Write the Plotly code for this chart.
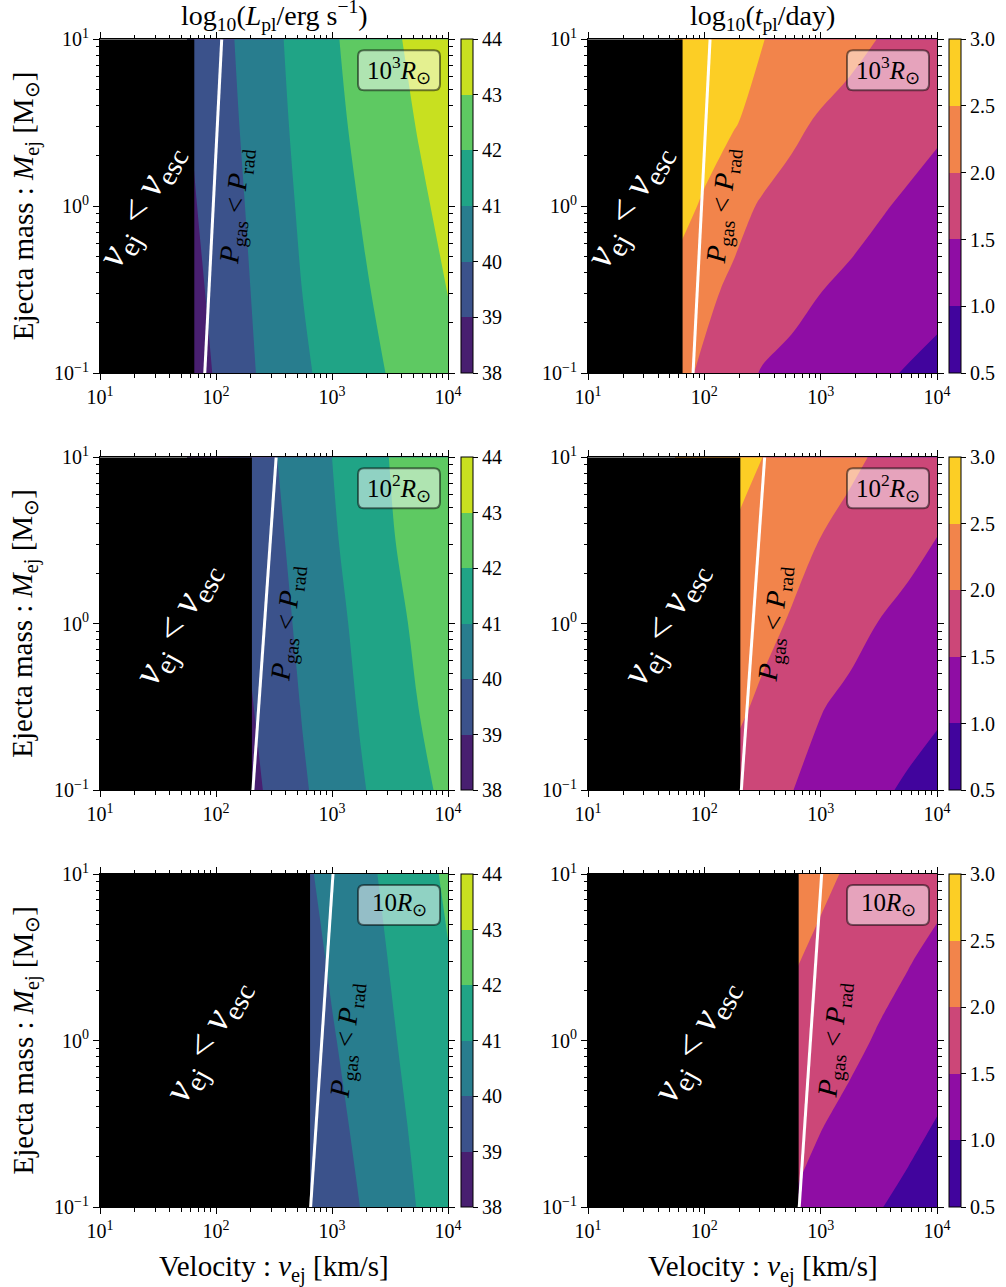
import plotly.graph_objects as go

# ---------------- data ----------------
VEL_GRID = [56.2, 100.0, 177.8, 316.2, 562.3, 1000.0, 1778.0, 3162.0, 5623.0, 10000.0]   # km/s
MASS_GRID = [0.1, 0.316, 1.0, 3.16, 10.0]                                                    # Msun

# log10(L_pl / erg s^-1), rows = MASS_GRID, cols = VEL_GRID
L_R1000 = [
    [38.39, 39.09, 39.79, 40.35, 40.86, 41.29, 41.68, 42.06, 42.42, 42.78],
    [38.60, 39.25, 39.89, 40.47, 41.02, 41.45, 41.87, 42.26, 42.64, 43.02],
    [38.79, 39.39, 40.00, 40.60, 41.15, 41.60, 42.04, 42.45, 42.85, 43.23],
    [38.93, 39.52, 40.12, 40.72, 41.27, 41.76, 42.21, 42.64, 43.06, 43.45],
    [39.02, 39.62, 40.22, 40.82, 41.36, 41.88, 42.35, 42.82, 43.25, 43.67],
]
L_R100 = [
    [37.30, 37.96, 38.60, 39.25, 39.89, 40.42, 40.92, 41.36, 41.79, 42.21],
    [37.60, 38.16, 38.81, 39.44, 40.06, 40.57, 41.08, 41.55, 42.01, 42.39],
    [37.80, 38.38, 39.00, 39.63, 40.21, 40.72, 41.22, 41.72, 42.17, 42.56],
    [37.93, 38.55, 39.17, 39.79, 40.35, 40.88, 41.40, 41.92, 42.34, 42.75],
    [38.12, 38.75, 39.35, 39.94, 40.48, 41.00, 41.51, 42.02, 42.47, 42.91],
]
L_R10 = [
    [36.60, 37.17, 37.74, 38.32, 38.89, 39.46, 40.02, 40.54, 41.05, 41.47],
    [36.80, 37.39, 37.97, 38.54, 39.11, 39.69, 40.23, 40.72, 41.19, 41.62],
    [37.10, 37.62, 38.19, 38.77, 39.35, 39.92, 40.41, 40.89, 41.34, 41.79],
    [37.30, 37.84, 38.42, 39.00, 39.58, 40.13, 40.59, 41.04, 41.50, 41.96],
    [37.60, 38.16, 38.71, 39.27, 39.82, 40.30, 40.74, 41.20, 41.68, 42.15],
]
# log10(t_pl / day)
T_R1000 = [
    [2.13, 1.93, 1.68, 1.47, 1.37, 1.27, 1.17, 1.07, 0.97, 0.88],
    [2.35, 2.10, 1.92, 1.78, 1.65, 1.51, 1.42, 1.33, 1.24, 1.14],
    [2.71, 2.43, 2.15, 1.95, 1.85, 1.75, 1.65, 1.54, 1.44, 1.34],
    [2.92, 2.76, 2.54, 2.31, 2.09, 1.95, 1.85, 1.76, 1.67, 1.57],
    [2.95, 2.77, 2.64, 2.51, 2.38, 2.25, 2.12, 1.99, 1.90, 1.80],
]
T_R100 = [
    [2.22, 2.04, 1.87, 1.69, 1.51, 1.36, 1.21, 1.07, 0.94, 0.82],
    [2.42, 2.26, 2.10, 1.92, 1.72, 1.52, 1.40, 1.29, 1.18, 1.07],
    [2.61, 2.45, 2.28, 2.12, 1.96, 1.80, 1.64, 1.49, 1.38, 1.27],
    [2.80, 2.64, 2.47, 2.31, 2.15, 1.99, 1.87, 1.74, 1.62, 1.49],
    [2.92, 2.78, 2.64, 2.50, 2.36, 2.22, 2.08, 1.95, 1.84, 1.73],
]
T_R10 = [
    [2.10, 1.94, 1.79, 1.64, 1.48, 1.33, 1.17, 1.02, 0.89, 0.76],
    [2.33, 2.15, 1.98, 1.83, 1.68, 1.52, 1.39, 1.25, 1.12, 0.98],
    [2.54, 2.36, 2.19, 2.01, 1.87, 1.74, 1.60, 1.46, 1.34, 1.21],
    [2.76, 2.59, 2.41, 2.23, 2.05, 1.91, 1.78, 1.65, 1.53, 1.41],
    [2.99, 2.81, 2.63, 2.45, 2.27, 2.09, 1.95, 1.84, 1.73, 1.63],
]

RADIUS_LABELS = ["10<sup>3</sup><i>R</i><sub>⊙</sub>", "10<sup>2</sup><i>R</i><sub>⊙</sub>", "10<i>R</i><sub>⊙</sub>"]
V_ESC = [65, 204, 647]                 # km/s, escape velocity per row
PRAD_V_LOW = [80, 208, 654]            # P_gas = P_rad line at M = 0.1
PRAD_V_HIGH = [112, 330, 1020]         # P_gas = P_rad line at M = 10
PRAD_M = [0.1, 10]

L_LEVELS = [38, 39, 40, 41, 42, 43, 44]
T_LEVELS = [0.5, 1.0, 1.5, 2.0, 2.5, 3.0]
L_COLORS = ["#481f70", "#3b528b", "#287d8e", "#20a486", "#5ec962", "#c8e020"]
T_COLORS = ["#41049d", "#8f0da4", "#cc4778", "#f2844b", "#fcce25"]

X_TICKS = [10, 100, 1000, 10000]
X_TICKTEXT = ["10<sup>1</sup>", "10<sup>2</sup>", "10<sup>3</sup>", "10<sup>4</sup>"]
X_MINOR = [20, 30, 40, 50, 60, 70, 80, 90, 200, 300, 400, 500, 600, 700, 800, 900,
           2000, 3000, 4000, 5000, 6000, 7000, 8000, 9000]
Y_TICKS = [0.1, 1, 10]
Y_TICKTEXT = ["10<sup>−1</sup>", "10<sup>0</sup>", "10<sup>1</sup>"]
Y_MINOR = [0.2, 0.3, 0.4, 0.5, 0.6, 0.7, 0.8, 0.9, 2, 3, 4, 5, 6, 7, 8, 9]

# ---------------- layout geometry ----------------
W, H = 1006, 1287
FONT = "Liberation Serif, Times New Roman, serif"
COL_PX = [(100, 448), (588, 937)]
ROW_PX = [(39.3, 373), (457.3, 790), (874, 1207)]
COL_X = [(a / W, b / W) for a, b in COL_PX]
ROW_Y = [(1 - b / H, 1 - a / H) for a, b in ROW_PX]
CB_X = [461 / W, 949 / W]

VESC_TXT_X = [1.35, 1.66, 1.92]
PGAS_TXT_X = [[2.175, 2.16], [2.62, 2.61], [3.13, 3.12]]

# label box (pixels): width, height, gap right, gap top, corner radius
BOX_W, BOX_H, BOX_GR, BOX_GT, BOX_R = 82, 40, 8, 11, 6


def stepped(colors):
    n = len(colors)
    cs = []
    for i, c in enumerate(colors):
        cs.append([i / n, c])
        cs.append([(i + 1) / n, c])
    return cs


def rounded_box(pw, ph):
    x1 = 1 - BOX_GR / pw
    x0 = x1 - BOX_W / pw
    y1 = 1 - BOX_GT / ph
    y0 = y1 - BOX_H / ph
    rx, ry = BOX_R / pw, BOX_R / ph
    path = (f"M {x0 + rx},{y0} L {x1 - rx},{y0} Q {x1},{y0} {x1},{y0 + ry} "
            f"L {x1},{y1 - ry} Q {x1},{y1} {x1 - rx},{y1} L {x0 + rx},{y1} "
            f"Q {x0},{y1} {x0},{y1 - ry} L {x0},{y0 + ry} Q {x0},{y0} {x0 + rx},{y0} Z")
    return path, (x0 + x1) / 2, (y0 + y1) / 2


fig = go.Figure()
layout = {}
annotations = []
shapes = []

L_DATA = [L_R1000, L_R100, L_R10]
T_DATA = [T_R1000, T_R100, T_R10]

for r in range(3):
    for c in range(2):
        k = r * 2 + c + 1
        xa = "x" if k == 1 else f"x{k}"
        ya = "y" if k == 1 else f"y{k}"
        y0, y1 = ROW_Y[r]
        pw = COL_PX[c][1] - COL_PX[c][0]
        ph = ROW_PX[r][1] - ROW_PX[r][0]
        if c == 0:
            z, levels, colors = L_DATA[r], L_LEVELS, L_COLORS
            ticktext = [str(v) for v in levels]
        else:
            z, levels, colors = T_DATA[r], T_LEVELS, T_COLORS
            ticktext = [f"{v:.1f}" for v in levels]
        lo, hi = levels[0], levels[-1]
        step = levels[1] - levels[0]
        fig.add_trace(go.Contour(
            x=VEL_GRID, y=MASS_GRID, z=z, xaxis=xa, yaxis=ya,
            colorscale=stepped(colors), zmin=lo, zmax=hi, zauto=False,
            contours=dict(start=lo, end=hi, size=step, coloring="fill", showlines=False),
            line=dict(width=0), hoverinfo="skip",
            colorbar=dict(
                x=CB_X[c], xanchor="left", xpad=0, y=(y0 + y1) / 2, yanchor="middle", ypad=0,
                len=y1 - y0, lenmode="fraction", thickness=12, thicknessmode="pixels",
                outlinewidth=1, outlinecolor="black", ticks="outside", ticklen=5, tickwidth=1,
                tickcolor="black", tickvals=levels, ticktext=ticktext,
                tickfont=dict(family=FONT, size=20, color="black"),
            ),
        ))
        ve = V_ESC[r]
        fig.add_trace(go.Scatter(
            x=[10, ve, ve, 10, 10], y=[0.1, 0.1, 10, 10, 0.1], xaxis=xa, yaxis=ya,
            mode="lines", fill="toself", fillcolor="black", line=dict(width=0, color="black"),
            hoverinfo="skip", showlegend=False,
        ))
        fig.add_trace(go.Scatter(
            x=[PRAD_V_LOW[r], PRAD_V_HIGH[r]], y=PRAD_M, xaxis=xa, yaxis=ya,
            mode="lines", line=dict(color="white", width=3), hoverinfo="skip", showlegend=False,
        ))

        axis_common = dict(
            type="log", showgrid=False, zeroline=False, showline=True, linecolor="black",
            linewidth=1, mirror="allticks", ticks="outside", ticklen=6, tickwidth=1,
            tickcolor="black", tickfont=dict(family=FONT, size=20, color="black"),
            automargin=False,
        )
        layout["xaxis" if k == 1 else f"xaxis{k}"] = dict(
            axis_common, domain=list(COL_X[c]), anchor=ya, range=[1, 4],
            tickmode="array", tickvals=X_TICKS, ticktext=X_TICKTEXT,
            minor=dict(tickmode="array", tickvals=X_MINOR, ticks="outside", ticklen=3.5,
                       tickwidth=1, tickcolor="black", showgrid=False),
        )
        layout["yaxis" if k == 1 else f"yaxis{k}"] = dict(
            axis_common, domain=[y0, y1], anchor=xa, range=[-1, 1],
            tickmode="array", tickvals=Y_TICKS, ticktext=Y_TICKTEXT,
            minor=dict(tickmode="array", tickvals=Y_MINOR, ticks="outside", ticklen=3.5,
                       tickwidth=1, tickcolor="black", showgrid=False),
        )

        # radius label box
        path, bx, by = rounded_box(pw, ph)
        shapes.append(dict(
            type="path", xref=f"{xa} domain", yref=f"{ya} domain", path=path,
            fillcolor="rgba(255,255,255,0.5)", line=dict(color="rgba(0,0,0,0.5)", width=2),
            layer="above",
        ))
        annotations.append(dict(
            xref=f"{xa} domain", yref=f"{ya} domain", x=bx, y=by, xanchor="center",
            yanchor="middle", text=RADIUS_LABELS[r], showarrow=False,
            font=dict(family=FONT, size=25, color="black"),
        ))
        # v_ej < v_esc
        annotations.append(dict(
            xref=xa, yref=ya, x=VESC_TXT_X[r], y=0, xanchor="center", yanchor="middle",
            text="<i>v</i><sub>ej</sub> &lt; <i>v</i><sub>esc</sub>", textangle=-62,
            showarrow=False, font=dict(family=FONT, size=40, color="white"),
        ))
        # P_gas < P_rad
        annotations.append(dict(
            xref=xa, yref=ya, x=PGAS_TXT_X[r][c], y=0, xanchor="center", yanchor="middle",
            text="<i>P</i><sub>gas</sub> &lt; <i>P</i><sub>rad</sub>", textangle=-84,
            showarrow=False, font=dict(family=FONT, size=28, color="black"),
        ))

# column titles
COL_TITLES = ["log<sub>10</sub>(<i>L</i><sub>pl</sub>/erg s<sup>−1</sup>)",
              "log<sub>10</sub>(<i>t</i><sub>pl</sub>/day)"]
for c in range(2):
    annotations.append(dict(
        xref="paper", yref="paper", x=(COL_X[c][0] + COL_X[c][1]) / 2, y=ROW_Y[0][1],
        xanchor="center", yanchor="bottom", yshift=2, text=COL_TITLES[c], showarrow=False,
        font=dict(family=FONT, size=28, color="black"),
    ))
    annotations.append(dict(
        xref="paper", yref="paper", x=(COL_X[c][0] + COL_X[c][1]) / 2, y=1 - 1268 / H,
        xanchor="center", yanchor="middle", text="Velocity : <i>v</i><sub>ej</sub> [km/s]",
        showarrow=False, font=dict(family=FONT, size=29, color="black"),
    ))
for r in range(3):
    annotations.append(dict(
        xref="paper", yref="paper", x=25 / W, y=(ROW_Y[r][0] + ROW_Y[r][1]) / 2,
        xanchor="center", yanchor="middle", textangle=-90,
        text="Ejecta mass : <i>M</i><sub>ej</sub> [M<sub>⊙</sub>]",
        showarrow=False, font=dict(family=FONT, size=29, color="black"),
    ))

fig.update_layout(
    width=W, height=H, margin=dict(l=0, r=0, t=0, b=0, pad=0, autoexpand=False), autosize=False,
    paper_bgcolor="white", plot_bgcolor="white", showlegend=False,
    annotations=annotations, shapes=shapes, **layout,
)
fig.write_html(
    "out.html",
    config={"displayModeBar": False, "staticPlot": True},
    post_script="document.body.style.margin='0px'; document.body.style.padding='0px';",
)
